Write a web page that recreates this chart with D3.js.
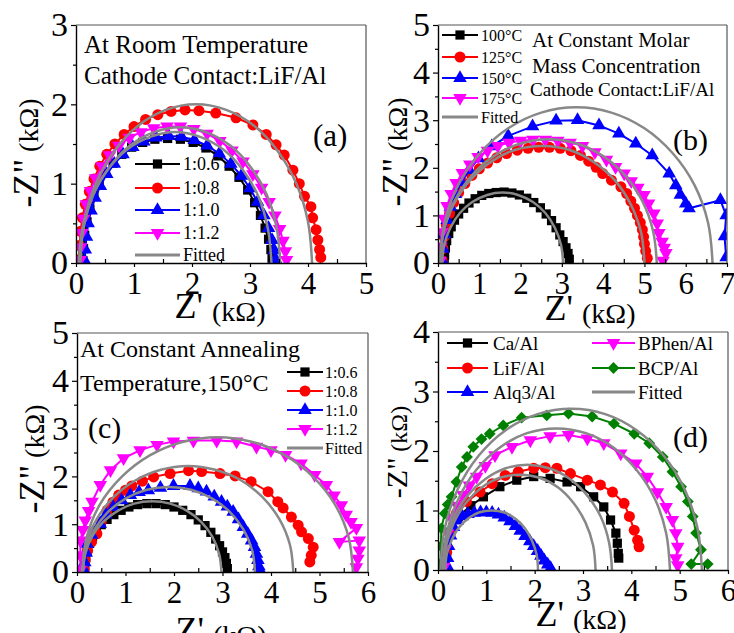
<!DOCTYPE html>
<html>
<head>
<meta charset="utf-8">
<script src="https://cdn.jsdelivr.net/npm/d3@7"></script>
<style>
  body { margin: 0; background: #fff; }
  svg { display: block; }
  text { font-family: "Liberation Serif", "Times New Roman", serif; fill: #000; }
</style>
</head>
<body>
<svg id="chart" width="734" height="633"></svg>
<script>
// ---------- panel (a): room temperature, LiF/Al ----------
const aNames = ["1:0.6", "1:0.8", "1:1.0", "1:1.2"];
const a06 = [[0.12,0.03],[0.13,0.18],[0.15,0.35],[0.19,0.52],[0.24,0.68],[0.31,0.84],[0.4,0.99],[0.51,1.13],[0.64,1.26],[0.79,1.37],[0.96,1.46],[1.15,1.52],[1.36,1.56],[1.58,1.57],[1.8,1.56],[2.02,1.52],[2.24,1.45],[2.45,1.35],[2.64,1.22],[2.81,1.08],[2.96,0.92],[3.08,0.76],[3.18,0.6],[3.26,0.44],[3.32,0.3],[3.36,0.17],[3.38,0.06]];
const a08 = [[0.05,0.04],[0.06,0.22],[0.08,0.4],[0.11,0.57],[0.16,0.74],[0.23,0.9],[0.31,1.06],[0.41,1.22],[0.53,1.37],[0.67,1.5],[0.83,1.62],[1.0,1.72],[1.2,1.81],[1.41,1.87],[1.64,1.91],[1.88,1.93],[2.12,1.92],[2.41,1.89],[2.76,1.83],[3.05,1.74],[3.28,1.62],[3.45,1.49],[3.59,1.36],[3.74,1.17],[3.85,1.0],[3.94,0.84],[4.05,0.71],[4.08,0.57],[4.14,0.42],[4.17,0.29],[4.2,0.17],[4.22,0.07]];
const a10 = [[0.15,0.03],[0.16,0.17],[0.18,0.33],[0.21,0.5],[0.26,0.66],[0.33,0.82],[0.42,0.97],[0.53,1.12],[0.66,1.25],[0.81,1.37],[0.98,1.46],[1.17,1.53],[1.38,1.58],[1.6,1.6],[1.82,1.59],[2.04,1.55],[2.26,1.48],[2.47,1.38],[2.67,1.25],[2.85,1.1],[3.0,0.94],[3.13,0.77],[3.24,0.6],[3.32,0.44],[3.38,0.29],[3.42,0.16],[3.44,0.05]];
const a12 = [[0.07,0.04],[0.08,0.2],[0.1,0.38],[0.13,0.56],[0.18,0.74],[0.25,0.91],[0.34,1.07],[0.45,1.22],[0.58,1.36],[0.74,1.48],[0.92,1.58],[1.12,1.65],[1.34,1.7],[1.57,1.72],[1.8,1.72],[2.03,1.69],[2.26,1.63],[2.48,1.54],[2.69,1.42],[2.88,1.28],[3.05,1.12],[3.2,0.95],[3.33,0.77],[3.43,0.6],[3.51,0.43],[3.57,0.28],[3.61,0.15],[3.63,0.04]];
const aFit1 = [[0.07,0],[0.14,0.52],[0.34,1.0],[0.66,1.41],[1.07,1.73],[1.55,1.93],[2.07,2.0],[2.59,1.93],[3.07,1.73],[3.48,1.41],[3.8,1.0],[4.0,0.52],[4.07,0]];
const aFit2 = [[0.07,0],[0.13,0.44],[0.3,0.86],[0.58,1.21],[0.93,1.48],[1.35,1.65],[1.8,1.71],[2.24,1.65],[2.66,1.48],[3.01,1.21],[3.29,0.86],[3.46,0.44],[3.52,0]];
const aFit3 = [[0.05,0],[0.11,0.43],[0.27,0.83],[0.54,1.17],[0.88,1.43],[1.28,1.59],[1.71,1.65],[2.14,1.59],[2.54,1.43],[2.88,1.17],[3.15,0.83],[3.31,0.43],[3.37,0]];

// ---------- panel (b): annealing temperature ----------
const bNames = ["100\u00B0C", "125\u00B0C", "150\u00B0C", "175\u00B0C"];
const b100 = [[0.15,0.03],[0.16,0.17],[0.18,0.32],[0.21,0.47],[0.26,0.62],[0.32,0.76],[0.4,0.9],[0.5,1.03],[0.62,1.15],[0.75,1.26],[0.9,1.35],[1.06,1.42],[1.23,1.46],[1.41,1.48],[1.6,1.49],[1.79,1.47],[1.97,1.43],[2.15,1.36],[2.32,1.27],[2.48,1.16],[2.62,1.03],[2.75,0.89],[2.86,0.74],[2.95,0.59],[3.03,0.45],[3.1,0.32],[3.15,0.2],[3.18,0.08]];
const b125 = [[0.1,0.05],[0.12,0.3],[0.15,0.55],[0.2,0.8],[0.28,1.04],[0.38,1.27],[0.5,1.48],[0.65,1.67],[0.82,1.84],[1.0,1.98],[1.2,2.1],[1.42,2.21],[1.66,2.3],[1.92,2.37],[2.18,2.41],[2.44,2.43],[2.7,2.43],[2.96,2.41],[3.22,2.36],[3.45,2.26],[3.65,2.14],[3.83,2.01],[3.99,1.88],[4.2,1.74],[4.43,1.6],[4.57,1.46],[4.67,1.3],[4.76,1.15],[4.83,1.0],[4.9,0.85],[4.95,0.7],[4.98,0.55],[5.0,0.4],[5.03,0.25],[5.07,0.1]];
const b150 = [[0.1,0.05],[0.12,0.3],[0.16,0.6],[0.22,0.9],[0.3,1.18],[0.42,1.45],[0.57,1.7],[0.76,1.95],[0.98,2.2],[1.3,2.45],[1.7,2.67],[2.29,2.87],[2.86,2.99],[3.38,3.0],[3.9,2.89],[4.38,2.72],[4.79,2.51],[5.19,2.26],[5.6,1.88],[5.76,1.63],[5.87,1.43],[6.0,1.25],[6.08,1.15],[6.84,1.32],[6.98,1.0],[6.94,0.56],[6.98,0.12]];
const b175 = [[0.05,0.05],[0.07,0.35],[0.1,0.65],[0.15,0.93],[0.22,1.2],[0.32,1.45],[0.44,1.68],[0.59,1.89],[0.77,2.07],[0.97,2.23],[1.2,2.36],[1.45,2.46],[1.72,2.53],[2.0,2.57],[2.3,2.59],[2.6,2.59],[2.9,2.57],[3.2,2.53],[3.5,2.46],[3.8,2.33],[4.08,2.17],[4.3,2.02],[4.51,1.88],[4.68,1.72],[4.84,1.58],[4.99,1.43],[5.1,1.25],[5.23,1.04],[5.31,0.83],[5.35,0.63],[5.43,0.45],[5.48,0.32],[5.52,0.21],[5.45,0.05]];
const bFit1 = [[0.05,0],[0.16,0.85],[0.49,1.64],[1.02,2.31],[1.7,2.83],[2.5,3.16],[3.35,3.27],[4.2,3.16],[5.0,2.83],[5.68,2.31],[6.21,1.64],[6.54,0.85],[6.65,0]];
const bFit2 = [[0.05,0],[0.14,0.67],[0.4,1.3],[0.82,1.84],[1.36,2.25],[2.0,2.51],[2.68,2.6],[3.36,2.51],[3.99,2.25],[4.53,1.84],[4.95,1.3],[5.21,0.67],[5.3,0]];
const bFit3 = [[0.05,0],[0.13,0.64],[0.38,1.23],[0.78,1.74],[1.29,2.13],[1.88,2.38],[2.53,2.46],[3.17,2.38],[3.76,2.13],[4.28,1.74],[4.67,1.23],[4.92,0.64],[5.0,0]];
const bFit4 = [[0.1,0],[0.15,0.38],[0.3,0.74],[0.53,1.05],[0.83,1.28],[1.19,1.43],[1.57,1.48],[1.94,1.43],[2.3,1.28],[2.6,1.05],[2.83,0.74],[2.98,0.38],[3.03,0]];

// ---------- panel (c): annealing at 150 C ----------
const cNames = ["1:0.6", "1:0.8", "1:1.0", "1:1.2"];
const c06 = [[0.15,0.03],[0.16,0.16],[0.18,0.3],[0.21,0.45],[0.26,0.6],[0.32,0.74],[0.4,0.87],[0.5,0.99],[0.62,1.1],[0.76,1.2],[0.91,1.29],[1.07,1.36],[1.25,1.41],[1.44,1.43],[1.63,1.43],[1.82,1.41],[2.0,1.36],[2.18,1.29],[2.35,1.2],[2.5,1.09],[2.64,0.97],[2.76,0.83],[2.86,0.69],[2.94,0.55],[3.0,0.42],[3.05,0.3],[3.08,0.18],[3.1,0.07]];
const c08 = [[0.15,0.05],[0.17,0.25],[0.22,0.45],[0.3,0.63],[0.41,0.8],[0.5,1.05],[0.62,1.29],[0.74,1.46],[0.86,1.61],[1.0,1.71],[1.13,1.8],[1.35,1.9],[1.58,1.99],[1.92,2.06],[2.3,2.12],[2.57,2.1],[2.95,2.06],[3.26,2.01],[3.59,1.89],[3.94,1.68],[4.14,1.47],[4.25,1.34],[4.42,1.15],[4.56,0.98],[4.63,0.84],[4.77,0.7],[4.87,0.52],[4.83,0.35],[4.8,0.21]];
const c10 = [[0.15,0.03],[0.16,0.2],[0.19,0.4],[0.21,0.59],[0.3,0.78],[0.48,1.01],[0.6,1.2],[0.75,1.36],[0.92,1.5],[1.1,1.61],[1.28,1.67],[1.47,1.71],[1.72,1.76],[1.99,1.8],[2.33,1.8],[2.5,1.75],[2.67,1.68],[2.83,1.58],[2.98,1.47],[3.1,1.37],[3.22,1.26],[3.33,1.1],[3.43,0.94],[3.52,0.8],[3.6,0.66],[3.66,0.52],[3.7,0.38],[3.73,0.25],[3.75,0.12],[3.77,0.04]];
const c12 = [[0.07,0.05],[0.07,0.35],[0.07,0.66],[0.12,0.88],[0.17,1.08],[0.24,1.28],[0.31,1.47],[0.48,1.82],[0.69,2.13],[0.96,2.38],[1.3,2.55],[1.65,2.66],[1.99,2.73],[2.4,2.75],[2.88,2.75],[3.29,2.73],[3.7,2.62],[4.0,2.55],[4.3,2.45],[4.62,2.27],[4.9,2.03],[5.14,1.82],[5.3,1.6],[5.45,1.4],[5.55,1.2],[5.65,1.05],[5.76,0.92],[5.41,0.63],[5.82,0.66],[5.82,0.45],[5.79,0.28],[5.76,0.1]];
const cFit1 = [[0.1,0],[0.2,0.73],[0.47,1.41],[0.92,1.99],[1.5,2.44],[2.17,2.72],[2.9,2.82],[3.62,2.72],[4.29,2.44],[4.87,1.99],[5.32,1.41],[5.6,0.73],[5.69,0]];
const cFit2 = [[0.12,0],[0.19,0.57],[0.41,1.11],[0.76,1.57],[1.21,1.92],[1.73,2.14],[2.29,2.22],[2.85,2.14],[3.38,1.92],[3.82,1.57],[4.17,1.11],[4.39,0.57],[4.46,0]];
const cFit3 = [[0.12,0],[0.18,0.46],[0.36,0.89],[0.64,1.26],[1.01,1.54],[1.44,1.72],[1.9,1.78],[2.35,1.72],[2.78,1.54],[3.15,1.26],[3.43,0.89],[3.61,0.46],[3.67,0]];
const cFit4 = [[0.12,0],[0.17,0.38],[0.31,0.74],[0.54,1.05],[0.84,1.28],[1.18,1.43],[1.55,1.48],[1.92,1.43],[2.27,1.28],[2.56,1.05],[2.79,0.74],[2.93,0.38],[2.98,0]];

// ---------- panel (d): cathode contacts ----------
const dNames = ["Ca/Al", "LiF/Al", "Alq3/Al", "BPhen/Al", "BCP/Al"];
const dCa = [[0.15,0.05],[0.18,0.3],[0.25,0.6],[0.42,0.9],[0.68,1.08],[0.94,1.23],[1.28,1.4],[1.63,1.51],[1.98,1.57],[2.32,1.54],[2.67,1.48],[2.95,1.4],[3.22,1.23],[3.43,1.06],[3.57,0.84],[3.68,0.62],[3.71,0.45],[3.73,0.28],[3.74,0.2]];
const dLiF = [[0.15,0.05],[0.18,0.3],[0.25,0.6],[0.38,0.95],[0.59,1.15],[0.87,1.31],[1.12,1.45],[1.39,1.59],[1.66,1.65],[1.98,1.71],[2.22,1.72],[2.46,1.71],[2.74,1.62],[3.09,1.51],[3.36,1.43],[3.61,1.31],[3.85,1.12],[3.96,0.9],[4.06,0.67],[4.13,0.5],[4.16,0.39]];
const dAlq3 = [[0.2,0.05],[0.2,0.2],[0.22,0.4],[0.26,0.58],[0.32,0.72],[0.4,0.83],[0.5,0.9],[0.62,0.94],[0.75,0.96],[0.88,0.97],[1.0,0.97],[1.12,0.96],[1.25,0.93],[1.37,0.88],[1.49,0.82],[1.6,0.74],[1.7,0.66],[1.8,0.57],[1.9,0.48],[1.98,0.4],[2.06,0.32],[2.13,0.24],[2.2,0.16],[2.27,0.09],[2.33,0.03]];
const dBPhen = [[0.12,0.05],[0.15,0.35],[0.2,0.62],[0.28,0.87],[0.4,1.08],[0.52,1.26],[0.65,1.42],[0.8,1.57],[0.98,1.75],[1.18,1.93],[1.53,2.07],[1.91,2.18],[2.32,2.25],[2.7,2.27],[3.09,2.21],[3.43,2.13],[3.78,1.96],[4.09,1.79],[4.33,1.57],[4.54,1.31],[4.72,1.06],[4.85,0.84],[4.92,0.62],[4.96,0.39],[4.92,0.2],[4.96,0.08]];
const dBCP = [[0.05,0.1],[0.06,0.4],[0.07,0.7],[0.14,0.95],[0.2,1.1],[0.28,1.23],[0.38,1.48],[0.49,1.73],[0.6,1.9],[0.73,2.07],[0.9,2.2],[1.07,2.29],[1.35,2.43],[1.73,2.56],[2.25,2.6],[2.7,2.63],[3.19,2.58],[3.64,2.46],[4.06,2.29],[4.37,2.13],[4.65,1.9],[4.85,1.65],[5.03,1.4],[5.17,1.15],[5.27,0.9],[5.34,0.62],[5.44,0.34],[5.24,0.1],[5.58,0.1]];
const dFit1 = [[0.05,0],[0.14,0.7],[0.41,1.36],[0.84,1.92],[1.4,2.35],[2.06,2.62],[2.76,2.71],[3.46,2.62],[4.11,2.35],[4.67,1.92],[5.1,1.36],[5.37,0.7],[5.46,0]];
const dFit2 = [[0.1,0],[0.18,0.62],[0.42,1.19],[0.79,1.68],[1.28,2.06],[1.84,2.3],[2.45,2.38],[3.06,2.3],[3.63,2.06],[4.11,1.68],[4.49,1.19],[4.72,0.62],[4.8,0]];
const dFit3 = [[0.1,0],[0.16,0.46],[0.33,0.89],[0.61,1.25],[0.98,1.53],[1.4,1.71],[1.85,1.77],[2.3,1.71],[2.73,1.53],[3.09,1.25],[3.37,0.89],[3.54,0.46],[3.6,0]];
const dFit4 = [[0.12,0],[0.17,0.41],[0.33,0.8],[0.58,1.13],[0.91,1.39],[1.28,1.55],[1.69,1.6],[2.1,1.55],[2.48,1.39],[2.8,1.13],[3.05,0.8],[3.21,0.41],[3.26,0]];
const dFit5 = [[0.15,0],[0.18,0.26],[0.28,0.5],[0.43,0.71],[0.63,0.87],[0.86,0.97],[1.11,1.0],[1.36,0.97],[1.59,0.87],[1.79,0.71],[1.94,0.5],[2.04,0.26],[2.07,0]];

const fittedLabel = "Fitted";

// ---------- styles ----------
const C = { black: "#000000", red: "#ff0000", blue: "#0000ff", magenta: "#ff00ff", green: "#008000", fit: "#888888" };
const SQ = { type: d3.symbolSquare, size: 85, rot: 0 };
const CI = { type: d3.symbolCircle, size: 95, rot: 0 };
const UP = { type: d3.symbolTriangle, size: 80, rot: 0 };
const DN = { type: d3.symbolTriangle, size: 80, rot: 180 };
const DI = { type: d3.symbolSquare, size: 70, rot: 45 };

const panels = [
  {
    id: "a", left: 76, right: 366, top: 25, bottom: 263, xMax: 5, yMax: 3,
    series: [
      { name: aNames[0], data: a06, color: C.black, sym: SQ },
      { name: aNames[1], data: a08, color: C.red, sym: CI },
      { name: aNames[2], data: a10, color: C.blue, sym: UP },
      { name: aNames[3], data: a12, color: C.magenta, sym: DN }
    ],
    fits: [aFit1, aFit2, aFit3],
    legend: { x1: 135, x2: 180, tx: 183, rows: [164, 188, 210, 233, 255], size: 18 },
    notes: [
      { t: "At Room Temperature", x: 84, y: 53, s: 25 },
      { t: "Cathode Contact:LiF/Al", x: 84, y: 84, s: 25 },
      { t: "(a)", x: 313, y: 146, s: 31 }
    ],
    yLab: { x: 38, y: 153, s1: 36, s2: 28 },
    xLab: { x: 220, y: 318 }
  },
  {
    id: "b", left: 438, right: 727, top: 25, bottom: 263, xMax: 7, yMax: 5,
    series: [
      { name: bNames[0], data: b100, color: C.black, sym: SQ },
      { name: bNames[1], data: b125, color: C.red, sym: CI },
      { name: bNames[2], data: b150, color: C.blue, sym: UP },
      { name: bNames[3], data: b175, color: C.magenta, sym: DN }
    ],
    fits: [bFit1, bFit2, bFit3, bFit4],
    legend: { x1: 442, x2: 478, tx: 481, rows: [35, 57, 78, 98, 117], size: 16 },
    notes: [
      { t: "At Constant Molar", x: 532, y: 47, s: 21 },
      { t: "Mass Concentration", x: 532, y: 73, s: 21 },
      { t: "Cathode Contact:LiF/Al", x: 530, y: 96, s: 19 },
      { t: "(b)", x: 673, y: 150, s: 30 }
    ],
    yLab: { x: 407, y: 152, s1: 36, s2: 28 },
    xLab: { x: 590, y: 320 }
  },
  {
    id: "c", left: 77, right: 368, top: 333, bottom: 572, xMax: 6, yMax: 5,
    series: [
      { name: cNames[0], data: c06, color: C.black, sym: SQ },
      { name: cNames[1], data: c08, color: C.red, sym: CI },
      { name: cNames[2], data: c10, color: C.blue, sym: UP },
      { name: cNames[3], data: c12, color: C.magenta, sym: DN }
    ],
    fits: [cFit1, cFit2, cFit3, cFit4],
    legend: { x1: 287, x2: 323, tx: 325, rows: [372, 391, 410, 429, 448], size: 16 },
    notes: [
      { t: "At Constant Annealing", x: 80, y: 357, s: 24 },
      { t: "Temperature,150\u00B0C", x: 80, y: 391, s: 24 },
      { t: "(c)", x: 88, y: 438, s: 30 }
    ],
    yLab: { x: 44, y: 459, s1: 36, s2: 28 },
    xLab: { x: 221, y: 642 }
  },
  {
    id: "d", left: 438, right: 728, top: 332, bottom: 570, xMax: 6, yMax: 4,
    series: [
      { name: dNames[0], data: dCa, color: C.black, sym: SQ },
      { name: dNames[1], data: dLiF, color: C.red, sym: CI },
      { name: dNames[2], data: dAlq3, color: C.blue, sym: UP },
      { name: dNames[3], data: dBPhen, color: C.magenta, sym: DN },
      { name: dNames[4], data: dBCP, color: C.green, sym: DI }
    ],
    fits: [dFit1, dFit2, dFit3, dFit4, dFit5],
    legend: {
      cols: [
        { x1: 447, x2: 488, tx: 493, rows: [343, 368, 392] },
        { x1: 592, x2: 635, tx: 638, rows: [343, 368, 392] }
      ],
      size: 19
    },
    notes: [{ t: "(d)", x: 673, y: 447, s: 30 }],
    yLab: { x: 407, y: 452, s1: 30, s2: 24 },
    xLab: { x: 581, y: 626 }
  }
];

const svg = d3.select("#chart");
const defs = svg.append("defs");

const marker = (sel, sym, color, cx, cy) =>
  sel.append("path")
     .attr("d", d3.symbol().type(sym.type).size(sym.size)())
     .attr("transform", `translate(${cx},${cy}) rotate(${sym.rot})`)
     .attr("fill", color);

const drawPanel = (p) => {
  const x = d3.scaleLinear().domain([0, p.xMax]).range([p.left, p.right]);
  const y = d3.scaleLinear().domain([0, p.yMax]).range([p.bottom, p.top]);
  const g = svg.append("g");

  defs.append("clipPath").attr("id", "clip-" + p.id)
      .append("rect")
      .attr("x", p.left).attr("y", p.top - 6)
      .attr("width", p.right - p.left).attr("height", p.bottom - p.top + 6);

  const plot = g.append("g").attr("clip-path", `url(#clip-${p.id})`);
  const line = d3.line().x(d => x(d[0])).y(d => y(d[1]));
  const smooth = d3.line().x(d => x(d[0])).y(d => y(d[1])).curve(d3.curveCatmullRom);

  p.series.forEach(s => {
    plot.append("path").datum(s.data)
        .attr("d", line)
        .attr("fill", "none")
        .attr("stroke", s.color)
        .attr("stroke-width", 2);
    s.data.forEach(d => marker(plot, s.sym, s.color, x(d[0]), y(d[1])));
  });

  p.fits.forEach(f => {
    plot.append("path").datum(f)
        .attr("d", smooth)
        .attr("fill", "none")
        .attr("stroke", C.fit)
        .attr("stroke-width", 2.5);
  });

  // frame: top and right in grey
  g.append("line").attr("x1", p.left).attr("x2", p.right).attr("y1", p.top).attr("y2", p.top)
   .attr("stroke", "#555").attr("stroke-width", 1.2);
  g.append("line").attr("x1", p.right).attr("x2", p.right).attr("y1", p.top).attr("y2", p.bottom)
   .attr("stroke", "#555").attr("stroke-width", 1.2);

  // axes
  const xMajor = d3.range(0, p.xMax + 1);
  const yMajor = d3.range(0, p.yMax + 1);
  const xMinor = d3.range(0.5, p.xMax, 1);
  const yMinor = d3.range(0.5, p.yMax, 1);
  const fmt = d3.format("d");

  const xAx = g.append("g").attr("transform", `translate(0,${p.bottom})`)
    .call(d3.axisBottom(x).tickValues(xMajor).tickFormat(fmt).tickSize(4).tickSizeOuter(0).tickPadding(5));
  g.append("g").attr("transform", `translate(0,${p.bottom})`)
    .call(d3.axisBottom(x).tickValues(xMinor).tickSize(-4).tickFormat(""))
    .call(a => a.select(".domain").remove());
  const yAx = g.append("g").attr("transform", `translate(${p.left},0)`)
    .call(d3.axisLeft(y).tickValues(yMajor).tickFormat(fmt).tickSize(5).tickSizeOuter(0).tickPadding(3));
  g.append("g").attr("transform", `translate(${p.left},0)`)
    .call(d3.axisLeft(y).tickValues(yMinor).tickSize(3).tickFormat(""))
    .call(a => a.select(".domain").remove());

  g.selectAll(".domain").attr("stroke", "#000").attr("stroke-width", 1.4);
  g.selectAll(".tick line").attr("stroke", "#000").attr("stroke-width", 1.2);
  g.selectAll("g").attr("font-family", null).attr("font-size", null);
  xAx.selectAll("text").attr("font-size", 31);
  yAx.selectAll("text").attr("font-size", 34);

  // legend
  const entries = p.series.map(s => ({ name: s.name, color: s.color, sym: s.sym }))
    .concat([{ name: fittedLabel, color: C.fit, sym: null }]);
  const slots = p.legend.cols
    ? p.legend.cols.flatMap(c => c.rows.map(r => ({ x1: c.x1, x2: c.x2, tx: c.tx, y: r })))
    : p.legend.rows.map(r => ({ x1: p.legend.x1, x2: p.legend.x2, tx: p.legend.tx, y: r }));
  entries.forEach((e, i) => {
    const sl = slots[i];
    g.append("line").attr("x1", sl.x1).attr("x2", sl.x2).attr("y1", sl.y).attr("y2", sl.y)
     .attr("stroke", e.color).attr("stroke-width", e.sym ? 2.2 : 3);
    if (e.sym) marker(g, e.sym, e.color, (sl.x1 + sl.x2) / 2, sl.y);
    g.append("text").attr("x", sl.tx).attr("y", sl.y).attr("dy", "0.35em")
     .attr("font-size", p.legend.size).text(e.name);
  });

  // annotations
  p.notes.forEach(n => {
    g.append("text").attr("x", n.x).attr("y", n.y).attr("font-size", n.s).text(n.t);
  });

  // axis titles
  const yl = g.append("text")
    .attr("transform", `translate(${p.yLab.x},${p.yLab.y}) rotate(-90)`)
    .attr("text-anchor", "middle");
  yl.append("tspan").attr("font-size", p.yLab.s1).text("-Z\"");
  yl.append("tspan").attr("font-size", p.yLab.s2).text(" (k\u03A9)");

  const xl = g.append("text")
    .attr("x", p.xLab.x).attr("y", p.xLab.y)
    .attr("text-anchor", "middle");
  xl.append("tspan").attr("font-size", 36).text("Z' ");
  xl.append("tspan").attr("font-size", 28).attr("dy", 3).text("(k\u03A9)");
};

panels.forEach(drawPanel);
</script>
</body>
</html>
